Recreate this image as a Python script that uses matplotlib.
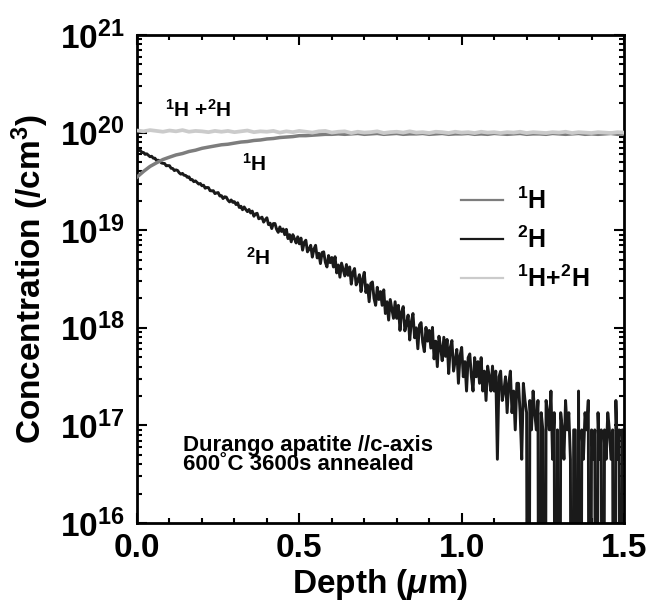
import numpy as np
import matplotlib
matplotlib.use("Agg")
from matplotlib import pyplot as plt
from matplotlib import ticker
from matplotlib.lines import Line2D

plt.rcParams['font.family'] = ['Liberation Sans', 'DejaVu Sans']
plt.rcParams['font.weight'] = 'bold'
plt.rcParams['mathtext.fontset'] = 'custom'
plt.rcParams['mathtext.rm'] = 'Liberation Sans:bold'
plt.rcParams['mathtext.bf'] = 'Liberation Sans:bold'
plt.rcParams['mathtext.it'] = 'Liberation Sans:bold:italic'
plt.rcParams['mathtext.default'] = 'rm'

# DATA

# 2H, every 0.005 um from 0 to 1.5, in units of 1e16 /cm3 (0 = below scale)
h2 = [6840, 6570, 6620, 6250, 6250, 5980, 6060, 5850, 5660, 5720,
      5470, 5470, 5180, 5210, 5160, 4890, 4840, 4820, 4570, 4590,
      4580, 4310, 4290, 4080, 4150, 4090, 3870, 3750, 3820, 3650,
      3640, 3480, 3520, 3290, 3300, 3140, 3200, 3080, 2970, 3010,
      2850, 2890, 2690, 2740, 2730, 2540, 2530, 2540, 2370, 2410,
      2430, 2240, 2260, 2110, 2200, 2180, 2030, 1950, 2040, 1930,
      1960, 1830, 1910, 1710, 1760, 1620, 1730, 1630, 1550, 1630,
      1500, 1570, 1390, 1470, 1490, 1310, 1330, 1360, 1210, 1280,
      1340, 1140, 1180, 1040, 1170, 1170, 1020, 950, 1080, 970,
      1030, 900, 1020, 820, 900, 760, 900, 820, 740, 855,
      725, 830, 625, 750, 790, 600, 640, 700, 530, 640,
      700, 520, 580, 455, 590, 600, 470, 420, 550, 465,
      525, 420, 535, 365, 440, 330, 460, 395, 340, 445,
      345, 420, 280, 370, 405, 275, 305, 350, 235, 315,
      370, 230, 275, 185, 285, 295, 200, 170, 260, 195,
      235, 170, 245, 140, 185, 120, 195, 155, 125, 185,
      125, 170, 94, 145, 165, 93, 110, 135, 75, 115,
      140, 79, 100, 61, 107, 113, 71, 57, 101, 73,
      94, 62, 101, 48, 73, 40, 82, 63, 46, 80,
      51, 76, 34, 63, 74, 36, 46, 60, 27, 52,
      63, 31.5, 45, 22.5, 49.5, 54, 31.5, 22.5, 49.5, 31.5,
      45, 27, 49.5, 22.5, 36, 18, 40.5, 31.5, 22.5, 40.5,
      22.5, 36, 4.5, 31.5, 36, 18, 22.5, 31.5, 13.5, 27,
      36, 13.5, 22.5, 9, 27, 27, 13.5, 4.5, 27, 18,
      13.5, 0, 18, 9, 22.5, 13.5, 9, 18, 0, 13.5,
      9, 0, 18, 13.5, 9, 22.5, 4.5, 13.5, 0, 9,
      0, 13.5, 9, 4.5, 18, 9, 13.5, 4.5, 0, 9,
      9, 0, 22.5, 0, 9, 4.5, 13.5, 9, 18, 0,
      9, 4.5, 9, 0, 13.5, 4.5, 9, 0, 9, 4.5,
      13.5, 9, 4.5, 9, 0, 18, 4.5, 9, 0, 9,
      4.5]

# 1H, every 0.02 um, in units of 1e19 /cm3
h1 = [3.5, 4.0, 4.5, 4.9, 5.3, 5.6, 5.9, 6.1, 6.4, 6.6,
      6.9, 7.1, 7.3, 7.5, 7.6, 7.8, 8.0, 8.1, 8.3, 8.4,
      8.6, 8.7, 8.9, 9.0, 9.1, 9.3, 9.3, 9.4, 9.5, 9.6,
      9.6, 9.7, 9.6, 9.7, 9.8, 9.6, 9.7, 9.8, 9.6, 9.7,
      9.8, 9.6, 9.7, 9.7, 9.8, 9.6, 9.7, 9.8, 9.6, 9.7,
      9.7, 9.8, 9.6, 9.7, 9.6, 9.8, 9.7, 9.6, 9.7, 9.8,
      9.6, 9.7, 9.7, 9.6, 9.8, 9.7, 9.6, 9.7, 9.8, 9.6,
      9.7, 9.6, 9.7, 9.8, 9.6, 9.7]

# 1H+2H, every 0.02 um, in units of 1e19 /cm3
h12 = [10.5, 10.3, 10.6, 10.4, 10.2, 10.5, 10.3, 10.6, 10.2, 10.4,
       10.3, 10.1, 10.4, 10.2, 10.4, 10.1, 10.3, 10.5, 10.1, 10.3,
       10.2, 10.4, 10.0, 10.3, 10.1, 10.4, 10.2, 10.0, 10.3, 10.4,
       10.0, 10.2, 10.3, 9.9, 10.2, 10.0, 10.1, 10.3, 9.9, 10.1,
       10.2, 10.0, 10.3, 10.0, 10.1, 9.9, 10.2, 10.1, 9.9, 10.2,
       10.0, 10.1, 9.9, 10.2, 10.0, 10.1, 9.9, 10.1, 10.0, 10.2,
       9.9, 10.1, 10.0, 9.9, 10.1, 10.0, 10.2, 9.9, 10.1, 10.0,
       9.9, 10.1, 10.0, 9.9, 10.1, 10.0]

depth_h2 = np.linspace(0, 1.5, len(h2))
depth_h1 = np.linspace(0, 1.5, len(h1))

y_h2 = np.array(h2) * 1e16
y_h2 = np.where(y_h2 > 0, y_h2, 1e10)
y_h1 = np.array(h1) * 1e19
y_h12 = np.array(h12) * 1e19

c_h1 = '#7d7d7d'
c_h2 = '#1a1a1a'
c_h12 = '#cbcbcb'

# PLOT

fig = plt.figure(figsize=(6.5, 6.0), dpi=100)
ax = fig.add_axes([0.2108, 0.1283, 0.7492, 0.8134])

ax.plot(depth_h2, y_h2, color=c_h2, lw=2.1, zorder=2)
ax.plot(depth_h1, y_h1, color=c_h1, lw=2.5, zorder=3)
ax.plot(depth_h1, y_h12, color=c_h12, lw=2.7, zorder=4)

ax.set_yscale('log')
ax.set_xlim(0, 1.5)
ax.set_ylim(1e16, 1e21)

ax.xaxis.set_major_locator(ticker.MultipleLocator(0.5))
ax.xaxis.set_minor_locator(ticker.MultipleLocator(0.1))
ax.xaxis.set_major_formatter(ticker.FormatStrFormatter('%.1f'))
ax.yaxis.set_major_locator(ticker.LogLocator(base=10, numticks=10))
ax.yaxis.set_minor_locator(ticker.LogLocator(base=10, subs=np.arange(2, 10), numticks=20))
ax.yaxis.set_minor_formatter(ticker.NullFormatter())
ax.yaxis.set_major_formatter(ticker.FuncFormatter(
    lambda v, p: r'$10^{%d}$' % int(round(np.log10(v)))))

ax.tick_params(which='both', direction='in', top=True, right=True, width=1.5)
ax.tick_params(which='major', length=7, labelsize=24)
ax.tick_params(which='minor', length=3.6)
ax.tick_params(axis='y', which='major', pad=9)
ax.tick_params(axis='x', which='major', pad=7)
for s in ax.spines.values():
    s.set_linewidth(2)

ax.set_xlabel(r'Depth ($\mathit{\mu}$m)', fontsize=24, fontweight='bold', labelpad=2)
ax.set_ylabel(r'Concentration (/cm$^3$)', fontsize=24, fontweight='bold', labelpad=6)

# curve labels
ax.text(0.086, 1.45e20, r'$^1$H +$^2$H', fontsize=15, va='baseline')
ax.text(0.323, 4.1e19, r'$^1$H', fontsize=15, va='baseline')
ax.text(0.335, 4.4e18, r'$^2$H', fontsize=15, va='baseline')

ax.text(0.142, 5.5e16, 'Durango apatite //c-axis', fontsize=16, va='baseline')
ax.text(0.142, 3.5e16, '600\u02daC 3600s annealed', fontsize=16, va='baseline')

handles = [Line2D([], [], color=c_h1, lw=1.6),
           Line2D([], [], color=c_h2, lw=1.6),
           Line2D([], [], color=c_h12, lw=1.6)]
labels = [r'$^1$H', r'$^2$H', r'$^1$H+$^2$H']
ax.legend(handles, labels, loc='upper left', bbox_to_anchor=(0.665, 0.687),
          frameon=False, fontsize=18, handlelength=1.7, handletextpad=0.55,
          labelspacing=0.5, borderpad=0, borderaxespad=0)

plt.savefig('out.png', dpi=100)
